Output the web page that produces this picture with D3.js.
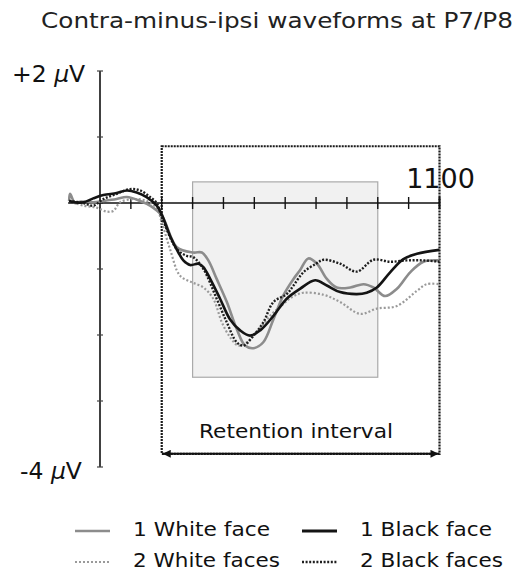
<!DOCTYPE html>
<html>
<head>
<meta charset="utf-8">
<script src="https://cdn.jsdelivr.net/npm/d3@7"></script>
<style>
  body { margin: 0; background: #fff; }
  svg { display: block; font-family: "DejaVu Sans", Verdana, sans-serif; }
</style>
</head>
<body>
<div id="chart"></div>
<script>
// time in ms, amplitude in microvolts (contra minus ipsi)
var whiteOne = [
    [-100, 0.03], [-97, 0.14], [-81, 0.0], [-65, 0.02], [-22, 0.01], [11, 0.03], [54, 0.06],
    [87, 0.09], [130, 0.03], [162, -0.04], [200, -0.19], [249, -0.67], [302, -0.75], [330, -0.75],
    [351, -0.87], [378, -1.15], [411, -1.50], [443, -1.91], [470, -2.16], [497, -2.20], [529, -2.11],
    [562, -1.76], [594, -1.40], [627, -1.15], [648, -1.02], [675, -0.84], [703, -0.92], [735, -1.15],
    [767, -1.28], [811, -1.28], [854, -1.23], [886, -1.28], [924, -1.41], [962, -1.30], [1005, -1.05],
    [1048, -0.89], [1100, -0.87]
];
var blackOne = [
    [-100, 0.03], [-81, 0.01], [-54, 0.01], [-22, 0.07], [11, 0.12], [54, 0.15], [87, 0.19],
    [119, 0.16], [151, 0.09], [184, -0.04], [200, -0.17], [227, -0.50], [254, -0.75], [270, -0.87],
    [292, -0.94], [319, -0.92], [335, -0.97], [357, -1.15], [389, -1.45], [421, -1.76], [454, -1.93],
    [486, -2.01], [519, -1.93], [562, -1.71], [605, -1.45], [648, -1.30], [697, -1.17], [735, -1.25],
    [778, -1.35], [832, -1.38], [864, -1.36], [897, -1.28], [940, -1.05], [983, -0.85], [1027, -0.77],
    [1100, -0.71]
];
var whiteTwo = [
    [-100, 0.03], [-54, -0.04], [-11, -0.07], [22, -0.13], [43, -0.12], [65, 0.01], [108, 0.06],
    [151, 0.03], [184, -0.08], [200, -0.29], [227, -0.70], [259, -1.10], [297, -1.20], [335, -1.28],
    [367, -1.45], [395, -1.81], [421, -2.03], [448, -2.16], [476, -2.11], [508, -1.96], [551, -1.71],
    [594, -1.53], [624, -1.42], [659, -1.36], [724, -1.39], [778, -1.50], [843, -1.68], [897, -1.60],
    [962, -1.56], [1027, -1.33], [1059, -1.23], [1100, -1.23]
];
var blackTwo = [
    [-100, 0.03], [-54, 0.0], [-22, -0.04], [11, 0.06], [54, 0.14], [97, 0.21], [130, 0.19],
    [162, 0.09], [184, 0.0], [200, -0.21], [249, -0.70], [281, -0.80], [302, -0.82], [335, -1.00],
    [378, -1.45], [411, -1.81], [443, -2.11], [465, -2.16], [497, -2.01], [529, -1.81], [562, -1.50],
    [605, -1.38], [627, -1.25], [659, -1.05], [700, -0.92], [724, -0.86], [778, -0.92], [832, -1.04],
    [886, -0.86], [940, -0.89], [994, -0.87], [1048, -0.87], [1100, -0.89]
];

var xTicks = [0, 100, 200, 300, 400, 500, 600, 700, 800, 900, 1000, 1100];
var yTicks = [2, 1, 0, -1, -2, -3, -4];
var analysisWindow = [300, 900];     // grey box, ms
var analysisRange = [0.32, -2.64];  // grey box, uV
var retention = [200, 1100];
var retentionRange = [0.86, -3.80];

var seriesNames = ['1 White face', '1 Black face', '2 White faces', '2 Black faces'];
var seriesData = [whiteOne, blackOne, whiteTwo, blackTwo];
var seriesColor = ['#8c8c8c', '#141414', '#9a9a9a', '#1e1e1e'];
var seriesWidth = [2.6, 2.6, 2.2, 2.4];
var seriesDash = [null, null, '2,2', '2,1.6'];

var _w = 524, _h = 573;
var svg = d3.select('#chart').append('svg').attr('width', _w).attr('height', _h);

var x = d3.scaleLinear().domain([0, 1100]).range([100, 439.5]);
var y = d3.scaleLinear().domain([2, -4]).range([71, 467]);

svg.append('text')
    .attr('x', 41).attr('y', 28)
    .attr('textLength', 472).attr('lengthAdjust', 'spacingAndGlyphs')
    .style('font-size', '22px').style('fill', '#222')
    .text('Contra-minus-ipsi waveforms at P7/P8');

// retention interval box (dotted)
svg.append('rect')
    .attr('x', x(retention[0])).attr('y', y(retentionRange[0]))
    .attr('width', x(retention[1]) - x(retention[0]))
    .attr('height', y(retentionRange[1]) - y(retentionRange[0]))
    .style('fill', 'none').style('stroke', '#1a1a1a')
    .style('stroke-width', 2.2).style('stroke-dasharray', '2,1');

// analysis window
svg.append('rect')
    .attr('x', x(analysisWindow[0])).attr('y', y(analysisRange[0]))
    .attr('width', x(analysisWindow[1]) - x(analysisWindow[0]))
    .attr('height', y(analysisRange[1]) - y(analysisRange[0]))
    .style('fill', '#f1f1f1').style('stroke', '#aaa').style('stroke-width', 1.2);

// y axis
var yAxis = svg.append('g').attr('class', 'y-axis');
yAxis.append('line')
    .attr('x1', x(0)).attr('x2', x(0)).attr('y1', y(2)).attr('y2', y(-4))
    .style('stroke', '#111').style('stroke-width', 1.6);
yAxis.selectAll('line.tick').data(yTicks).enter().append('line')
    .attr('class', 'tick')
    .attr('x1', x(0) - 3).attr('x2', x(0) + 3)
    .attr('y1', function (d) { return y(d); }).attr('y2', function (d) { return y(d); })
    .style('stroke', '#444').style('stroke-width', 1.2);

var topLabel = svg.append('text').attr('x', 12).attr('y', 82).style('font-size', '23.5px').style('fill', '#111');
topLabel.append('tspan').text('+2 ');
topLabel.append('tspan').style('font-style', 'italic').text('\u00b5');
topLabel.append('tspan').text('V');
var bottomLabel = svg.append('text').attr('x', 20).attr('y', 479).style('font-size', '23.5px').style('fill', '#111');
bottomLabel.append('tspan').text('-4 ');
bottomLabel.append('tspan').style('font-style', 'italic').text('\u00b5');
bottomLabel.append('tspan').text('V');

// x axis
var xAxis = svg.append('g').attr('class', 'x-axis');
xAxis.append('line')
    .attr('x1', x(-100) - 1).attr('x2', x(1100)).attr('y1', y(0)).attr('y2', y(0))
    .style('stroke', '#111').style('stroke-width', 1.6);
xAxis.selectAll('line.tick').data(xTicks.slice(1)).enter().append('line')
    .attr('class', 'tick')
    .attr('x1', function (d) { return x(d); }).attr('x2', function (d) { return x(d); })
    .attr('y1', y(0) - 6).attr('y2', y(0) + 6)
    .style('stroke', '#111').style('stroke-width', function (d) { return d == 1100 ? 2 : 1.4; });

svg.append('text')
    .attr('x', x(1100) + 1).attr('y', 188)
    .attr('text-anchor', 'middle')
    .style('font-size', '27px').style('fill', '#111')
    .text('1100');

// waveforms
var line = d3.line()
    .x(function (d) { return x(d[0]); })
    .y(function (d) { return y(d[1]); })
    .curve(d3.curveCatmullRom.alpha(0.5));

var order = [2, 0, 3, 1];
order.forEach(function (i) {
    svg.append('path')
        .datum(seriesData[i])
        .attr('d', line)
        .style('fill', 'none')
        .style('stroke', seriesColor[i])
        .style('stroke-width', seriesWidth[i])
        .style('stroke-dasharray', seriesDash[i])
        .style('stroke-linejoin', 'round');
});

// retention arrow
var defs = svg.append('defs');
defs.append('marker').attr('id', 'arrow-end')
    .attr('viewBox', '0 0 10 10').attr('refX', 10).attr('refY', 5)
    .attr('markerWidth', 5).attr('markerHeight', 4).attr('orient', 'auto')
    .append('path').attr('d', 'M0,0L10,5L0,10Z').style('fill', '#111');
defs.append('marker').attr('id', 'arrow-start')
    .attr('viewBox', '0 0 10 10').attr('refX', 0).attr('refY', 5)
    .attr('markerWidth', 5).attr('markerHeight', 4).attr('orient', 'auto')
    .append('path').attr('d', 'M10,0L0,5L10,10Z').style('fill', '#111');
svg.append('line')
    .attr('x1', x(retention[0]) + 1).attr('x2', x(retention[1]) - 1)
    .attr('y1', y(retentionRange[1])).attr('y2', y(retentionRange[1]))
    .style('stroke', '#111').style('stroke-width', 2)
    .attr('marker-start', 'url(#arrow-start)').attr('marker-end', 'url(#arrow-end)');
svg.append('text')
    .attr('x', 199).attr('y', 438)
    .attr('textLength', 194).attr('lengthAdjust', 'spacingAndGlyphs')
    .style('font-size', '20px').style('fill', '#111')
    .text('Retention interval');

// legend
var legendPos = [[75, 531], [302, 531], [75, 562], [302, 562]];
var legendTextLen = [137, 132, 147, 143];
var legend = svg.append('g').attr('class', 'legend');
seriesNames.forEach(function (name, i) {
    var p = legendPos[i];
    legend.append('line')
        .attr('x1', p[0]).attr('x2', p[0] + 35).attr('y1', p[1]).attr('y2', p[1])
        .style('stroke', seriesColor[i])
        .style('stroke-width', i == 1 ? 3.2 : seriesWidth[i])
        .style('stroke-dasharray', seriesDash[i]);
    legend.append('text')
        .attr('x', p[0] + 58).attr('y', p[1] + 5)
        .attr('textLength', legendTextLen[i]).attr('lengthAdjust', 'spacingAndGlyphs')
        .style('font-size', '19.5px').style('fill', '#111')
        .text(name);
});
</script>
</body>
</html>
